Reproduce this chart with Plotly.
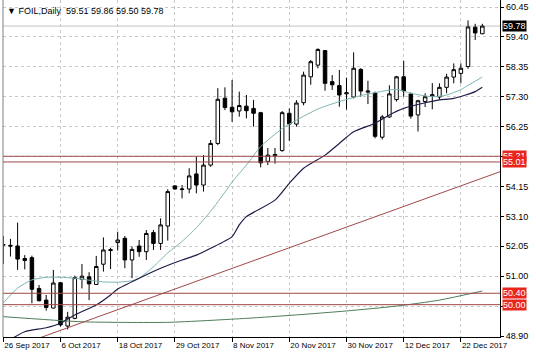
import plotly.graph_objects as go

# ---------------- data ----------------
dates = ["26 Sep", "27 Sep", "28 Sep", "29 Sep", "2 Oct", "3 Oct", "4 Oct", "5 Oct",
         "6 Oct", "9 Oct", "10 Oct", "11 Oct", "12 Oct", "13 Oct", "16 Oct", "17 Oct",
         "18 Oct", "19 Oct", "20 Oct", "23 Oct", "24 Oct", "25 Oct", "26 Oct", "27 Oct",
         "29 Oct", "30 Oct", "31 Oct", "1 Nov", "2 Nov", "3 Nov", "6 Nov", "7 Nov",
         "8 Nov", "9 Nov", "10 Nov", "13 Nov", "14 Nov", "15 Nov", "16 Nov", "17 Nov",
         "20 Nov", "21 Nov", "22 Nov", "23 Nov", "24 Nov", "27 Nov", "28 Nov", "29 Nov",
         "30 Nov", "1 Dec", "4 Dec", "5 Dec", "6 Dec", "7 Dec", "8 Dec", "11 Dec",
         "12 Dec", "13 Dec", "14 Dec", "15 Dec", "18 Dec", "19 Dec", "20 Dec", "21 Dec",
         "22 Dec", "26 Dec", "27 Dec", "28 Dec"]

opens = [52.09, 52.05, 52.06, 51.62, 51.65, 50.57, 50.16, 49.88,
         50.77, 49.25, 49.52, 50.89, 50.98, 50.71, 51.42, 51.90,
         52.18, 52.33, 51.57, 52.06, 51.86, 52.53, 52.15, 52.76,
         54.17, 54.04, 54.06, 54.59, 54.20, 54.90, 55.66, 57.25,
         56.93, 56.80, 56.97, 56.89, 56.74, 55.03, 55.23, 55.41,
         56.72, 56.34, 57.09, 58.00, 58.41, 58.92, 57.83, 57.69,
         57.40, 57.29, 58.26, 57.46, 57.43, 55.88, 56.59, 57.20,
         58.00, 57.40, 56.66, 57.13, 57.33, 57.29, 57.63, 57.99,
         58.12, 58.36, 59.74, 59.51]
highs = [52.41, 52.31, 52.88, 51.74, 51.72, 50.69, 50.34, 51.22,
         50.80, 49.75, 51.02, 51.43, 51.14, 51.71, 52.36, 52.00,
         52.56, 52.41, 52.04, 52.27, 52.62, 52.62, 53.03, 54.05,
         54.19, 54.20, 54.79, 55.19, 55.25, 55.78, 57.60, 57.63,
         57.89, 57.48, 57.36, 57.19, 56.77, 55.50, 55.50, 56.80,
         56.89, 57.18, 58.18, 58.59, 59.00, 58.94, 58.06, 58.24,
         57.97, 58.86, 58.30, 57.86, 57.48, 56.66, 57.70, 58.03,
         58.56, 57.45, 57.19, 57.42, 57.78, 57.77, 58.10, 58.47,
         58.47, 59.98, 59.86, 59.86]
lows = [51.43, 51.69, 51.22, 51.24, 50.05, 50.11, 49.79, 49.87,
        49.23, 49.13, 49.49, 50.57, 50.16, 50.69, 51.16, 51.25,
        51.90, 51.28, 50.93, 51.68, 51.57, 51.92, 51.92, 52.25,
        54.04, 53.73, 53.91, 53.91, 53.97, 54.84, 55.60, 56.83,
        56.42, 56.60, 56.54, 56.25, 54.82, 54.90, 54.95, 55.37,
        55.75, 56.25, 57.00, 57.72, 58.30, 57.51, 57.54, 56.95,
        56.85, 57.24, 57.30, 57.04, 55.84, 55.80, 56.56, 57.13,
        57.30, 56.53, 56.08, 56.94, 56.86, 57.19, 57.42, 57.77,
        57.77, 58.28, 59.29, 59.50]
closes = [52.11, 52.08, 51.60, 51.55, 50.54, 50.14, 49.90, 50.76,
          49.29, 49.56, 50.95, 51.00, 50.73, 51.34, 51.92, 51.93,
          52.27, 51.57, 51.94, 51.86, 52.50, 52.15, 52.80, 53.97,
          54.06, 54.06, 54.52, 54.20, 54.90, 55.66, 57.21, 56.92,
          56.77, 56.99, 56.81, 56.72, 54.98, 55.25, 55.27, 56.74,
          56.34, 57.08, 58.06, 58.53, 58.96, 57.77, 57.72, 57.36,
          57.44, 58.30, 57.50, 57.50, 55.91, 56.59, 57.40, 58.00,
          57.50, 56.62, 57.16, 57.30, 57.37, 57.63, 57.99, 58.25,
          58.30, 59.75, 59.54, 59.78]

# moving averages (bar index, price)
fast_ma_bar = [0, 2, 4, 6, 8, 10, 12, 14, 16, 18, 19, 21, 23, 25, 27, 29, 31, 32, 34,
               36, 39, 41, 44, 47, 50, 53, 55, 57, 60, 62, 64, 65, 67]
fast_ma_val = [50.06, 50.58, 50.87, 50.96, 50.96, 50.93, 50.86, 50.80, 50.79, 50.84,
               50.93, 51.33, 51.82, 52.22, 52.70, 53.28, 53.95, 54.31, 54.90, 55.55,
               56.18, 56.48, 56.87, 57.13, 57.34, 57.49, 57.56, 57.42, 57.30, 57.36,
               57.55, 57.70, 57.99]
slow_ma_bar = [1, 3, 6, 8, 10, 13, 15, 16, 19, 22, 25, 27, 29, 32, 33, 34, 38, 40, 42,
               45, 47, 49, 52, 54, 56, 59, 61, 63, 66, 67]
slow_ma_val = [48.78, 49.05, 49.19, 49.35, 49.64, 49.99, 50.34, 50.55, 50.93, 51.28,
               51.57, 51.74, 51.98, 52.39, 52.80, 53.09, 53.67, 54.26, 54.79, 55.25,
               55.66, 56.07, 56.37, 56.66, 56.89, 57.09, 57.19, 57.24, 57.48, 57.63]
long_ma_bar = [0, 11, 23, 34, 41, 48, 55, 61, 67]
long_ma_val = [49.58, 49.40, 49.38, 49.52, 49.64, 49.78, 49.95, 50.16, 50.48]

trend_bar = [4.7, 69.5]
trend_val = [48.80, 54.67]

levels = [55.21, 55.01, 50.40, 50.00]
last_price = 59.78
header = "\u25bc FOIL,Daily  59.51 59.86 59.50 59.78"

y_range = [48.865, 60.696]
y_ticks = [60.45, 59.40, 58.35, 57.30, 56.25, 55.20, 54.15, 53.10, 52.05, 51.00, 49.95, 48.90]
y_labels = ["", "59.40", "58.35", "57.30", "56.25", "", "54.15", "53.10",
            "52.05", "51.00", "", "48.90"]
top_tick_label = "60.45"
x_tick_bars = list(range(0, len(dates), 8))
x_tick_labels = [dates[i] + " 2017" for i in x_tick_bars]

# ---------------- figure ----------------
bars = list(range(len(dates)))
fig = go.Figure()

fig.add_trace(go.Scatter(x=long_ma_bar, y=long_ma_val, mode="lines",
                         line=dict(color="#4e7d58", width=1, shape="spline", smoothing=0.6),
                         hoverinfo="skip"))
fig.add_trace(go.Scatter(x=trend_bar, y=trend_val, mode="lines",
                         line=dict(color="#a04848", width=1), hoverinfo="skip"))
fig.add_trace(go.Scatter(x=fast_ma_bar, y=fast_ma_val, mode="lines",
                         line=dict(color="#7db3b3", width=1, shape="spline", smoothing=0.6),
                         hoverinfo="skip"))
fig.add_trace(go.Scatter(x=slow_ma_bar, y=slow_ma_val, mode="lines",
                         line=dict(color="#1c1c48", width=1.2, shape="spline", smoothing=0.6),
                         hoverinfo="skip"))

fig.add_trace(go.Candlestick(
    x=bars, open=opens, high=highs, low=lows, close=closes,
    increasing=dict(line=dict(color="black", width=1), fillcolor="white"),
    decreasing=dict(line=dict(color="black", width=1), fillcolor="black"),
    whiskerwidth=0, hoverinfo="skip"))

shapes = []
for lv in levels:
    shapes.append(dict(type="line", xref="paper", x0=0, x1=1, yref="y", y0=lv, y1=lv,
                       line=dict(color="#a04848", width=1), layer="above"))
shapes.append(dict(type="line", xref="paper", x0=0, x1=1, yref="y", y0=last_price,
                   y1=last_price, line=dict(color="#c4c4c4", width=1), layer="below"))
shapes.append(dict(type="line", xref="paper", x0=0, x1=0, yref="paper", y0=0, y1=1,
                   line=dict(color="#808080", width=1)))

annotations = [dict(xref="paper", yref="paper", x=0, y=1, xanchor="left", yanchor="top",
                    xshift=2, yshift=-4, text=header, showarrow=False,
                    font=dict(family="Liberation Sans", size=9, color="black"))]
top_frac = (y_ticks[0] - y_range[0]) / (y_range[1] - y_range[0])
annotations.append(dict(xref="paper", yref="paper", x=1, y=top_frac, xanchor="left",
                        yanchor="middle", xshift=5, text=top_tick_label, showarrow=False,
                        borderpad=0,
                        font=dict(family="Liberation Sans", size=9, color="black")))
box_font = dict(family="Liberation Sans", size=9, color="white")
annotations.append(dict(xref="paper", yref="y", x=1, y=last_price, xanchor="left",
                        xshift=2, text=str(last_price), showarrow=False, bgcolor="black",
                        font=box_font, borderpad=0))
for lv in levels:
    annotations.append(dict(xref="paper", yref="y", x=1, y=lv, xanchor="left",
                            xshift=2, text="%.2f" % lv, showarrow=False, bgcolor="#e8261e",
                            font=box_font, borderpad=0))

fig.update_layout(
    width=536, height=357,
    margin=dict(l=3, r=36, t=0, b=20, autoexpand=False),
    paper_bgcolor="white", plot_bgcolor="white",
    showlegend=False,
    shapes=shapes, annotations=annotations,
    xaxis=dict(range=[-0.042, 69.47], tickvals=x_tick_bars, ticktext=x_tick_labels,
               ticklabelposition="outside right", ticks="outside", ticklen=4,
               tickangle=0, automargin=False,
               tickcolor="black", showgrid=True, gridcolor="#c8c8c8", griddash="3px,3px",
               showline=True, linecolor="black", zeroline=False,
               rangeslider=dict(visible=False),
               tickfont=dict(family="Liberation Sans", size=8, color="black")),
    yaxis=dict(range=y_range, side="right", tickvals=y_ticks, ticktext=y_labels,
               ticks="outside", ticklen=3, tickcolor="black", showgrid=True,
               automargin=False, ticklabeloverflow="allow",
               gridcolor="#c8c8c8", griddash="3px,3px", showline=True, linecolor="black",
               zeroline=False,
               tickfont=dict(family="Liberation Sans", size=9, color="black")),
)

fig.write_html("out.html", config={"displayModeBar": False},
               post_script="document.body.style.margin='0px';document.body.style.padding='0px';")
